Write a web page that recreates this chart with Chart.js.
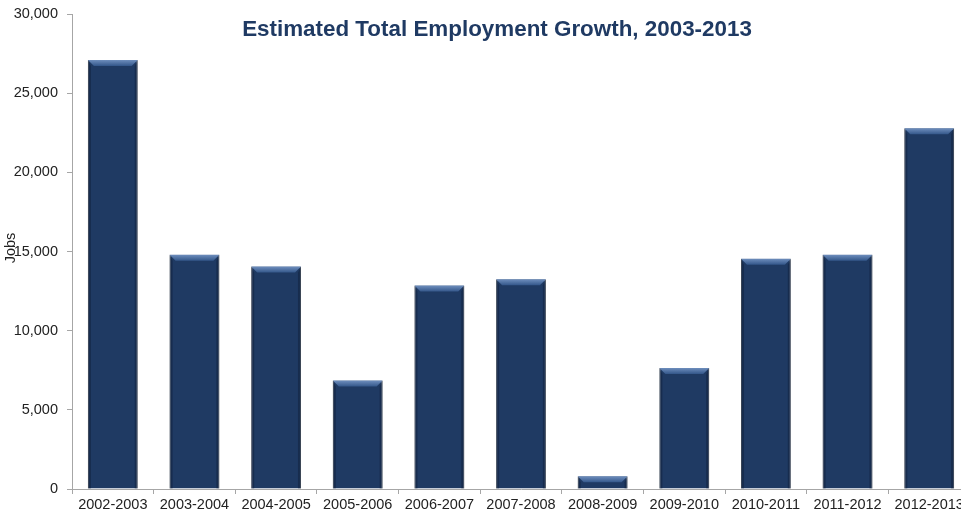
<!DOCTYPE html>
<html>
<head>
<meta charset="utf-8">
<script src="https://cdn.jsdelivr.net/npm/chart.js@4"></script>
<style>
  html, body { margin: 0; padding: 0; background: #fff; overflow: hidden; }
  .wrap { position: relative; width: 975px; height: 516px; }
  .chart-title {
    position: absolute; left: 0; top: 16px; width: 994px;
    text-align: center; font: bold 22.4px "Liberation Sans", Arial, sans-serif;
    color: #1f3a63; line-height: 26px; pointer-events: none;
  }
</style>
</head>
<body>
<div class="wrap">
  <canvas id="jobsChart" width="975" height="516"></canvas>
  <div class="chart-title">Estimated Total Employment Growth, 2003-2013</div>
</div>
<script>
const periods = ["2002-2003", "2003-2004", "2004-2005", "2005-2006", "2006-2007", "2007-2008",
  "2008-2009", "2009-2010", "2010-2011", "2011-2012", "2012-2013"];
const jobs = [27100, 14800, 14050, 6850, 12850, 13250, 800, 7650, 14550, 14800, 22780];
const yTicks = [0, 5000, 10000, 15000, 20000, 25000, 30000];

const FONT = "'Liberation Sans', Arial, sans-serif";
const axisGray = "#a6a6a6";

// draws the "Jobs" axis title over the tick labels, like the original
const jobsLabel = {
  id: "jobsLabel",
  afterDraw(chart) {
    const c = chart.ctx;
    c.save();
    c.translate(11, 248);
    c.rotate(-Math.PI / 2);
    c.font = "14.5px " + FONT;
    c.fillStyle = "#222";
    c.textAlign = "center";
    c.textBaseline = "middle";
    c.fillText("Jobs", 0, 0);
    c.restore();
  },
};

// bevel look on top of each bar
const bevel = {
  id: "bevel",
  afterDatasetsDraw(chart) {
    const c = chart.ctx;
    chart.getDatasetMeta(0).data.forEach((bar) => {
      const l = bar.x - bar.width / 2;
      const r = bar.x + bar.width / 2;
      const t = bar.y;
      const b = bar.base;
      const bv = Math.min(6, (b - t) / 2);
      c.save();
      // side shading
      c.fillStyle = "rgba(10,20,40,0.35)";
      c.beginPath();
      c.moveTo(l, t); c.lineTo(l + 3, t + bv); c.lineTo(l + 3, b); c.lineTo(l, b);
      c.closePath(); c.fill();
      c.beginPath();
      c.moveTo(r, t); c.lineTo(r - 3, t + bv); c.lineTo(r - 3, b); c.lineTo(r, b);
      c.closePath(); c.fill();
      // top highlight
      const g = c.createLinearGradient(0, t, 0, t + bv);
      g.addColorStop(0, "#6f8fbe");
      g.addColorStop(1, "#34578a");
      c.fillStyle = g;
      c.beginPath();
      c.moveTo(l, t); c.lineTo(r, t); c.lineTo(r - 6, t + bv); c.lineTo(l + 6, t + bv);
      c.closePath(); c.fill();
      c.restore();
    });
  },
};

new Chart(document.getElementById("jobsChart"), {
  type: "bar",
  data: {
    labels: periods,
    datasets: [{
      data: jobs,
      backgroundColor: "#1f3a63",
      borderColor: "#56606f",
      borderWidth: 1,
      borderSkipped: "bottom",
      barPercentage: 0.61,
      categoryPercentage: 1,
    }],
  },
  options: {
    responsive: false,
    animation: false,
    layout: { padding: { top: 14, right: 5, left: 0, bottom: 0 } },
    plugins: { legend: { display: false }, tooltip: { enabled: false }, title: { display: false } },
    scales: {
      x: {
        afterFit: (s) => { s.height = 27; },
        grid: { drawOnChartArea: false, tickLength: 5, color: axisGray },
        border: { color: axisGray },
        ticks: { color: "#222", font: { family: FONT, size: 14.5 }, maxRotation: 0, autoSkip: false, padding: 2 },
      },
      y: {
        min: 0,
        max: 30000,
        afterFit: (s) => { s.width = 72; s.paddingTop = 0; s.paddingBottom = 0; },
        afterBuildTicks: (s) => { s.ticks = yTicks.map((v) => ({ value: v })); },
        grid: { drawOnChartArea: false, tickLength: 5, color: axisGray },
        border: { color: axisGray },
        ticks: {
          color: "#222",
          padding: 9,
          font: { family: FONT, size: 14.5 },
          callback: (v) => v.toLocaleString("en-US"),
        },
      },
    },
  },
  plugins: [jobsLabel, bevel],
});
</script>
</body>
</html>
